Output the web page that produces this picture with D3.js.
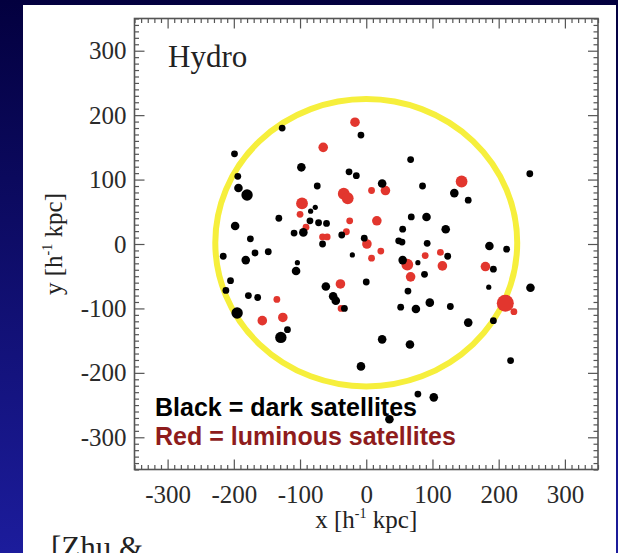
<!DOCTYPE html>
<html lang="en">
<head>
  <meta charset="UTF-8">
  <title>Hydro satellites</title>
  <style>
    body {
      margin: 0;
      padding: 0;
      background: #03003f;
    }
    svg {
      display: block;
    }
    .tick text {
      font-family: "Liberation Serif", "Times New Roman", serif;
      font-size: 25px;
      fill: #2a2a2a;
    }
    .tick line {
      stroke: #555;
      stroke-width: 1.2;
    }
    .serif {
      font-family: "Liberation Serif", "Times New Roman", serif;
      fill: #222;
    }
    .legend {
      font-family: "Liberation Sans", Arial, sans-serif;
      font-weight: bold;
      font-size: 25px;
    }
  </style>
</head>
<body>
  <div id="chart"></div>
  <script src="https://d3js.org/d3.v7.min.js"></script>
  <script>
    // tick labels
    const xTicks = [-300, -200, -100, 0, 100, 200, 300];
    const yTicks = [-300, -200, -100, 0, 100, 200, 300];

    // dark satellites: x, y [h^-1 kpc] and mass class (0 = smallest)
    const darkX = [-127, -199, -194, -193, -180, -98, -74, -77, -84, -132, -198, -175, -85, -72, -60, -95, -109, -66, -37, -8,
      -26, -15, 24, 67, 85, 133, 154, 247, 68, 91, 120, 55, -3, 49, 54, 92, 186, 212, -21, 55,
      78, 123, 88, 192, 185, 248, 154, 192, 218, 0, -61, -50, -46, -33, 63, 52, 75, 96, 127, 24,
      66, -8, 78, 102, 35, -216, -182, -168, -148, -104, -106, -205, -212, -178, -164, -195, -119, -129];
    const darkY = [180, 140, 105, 87, 76, 119, 90, 57, 51, 40, 28, 8, 36, 33, 32, 18, 17, 0, 14, 169,
      112, 106, 94, 131, 90, 79, 68, 109, 42, 42, 23, 23, 9, 5, 3, 1, -3, -8, -17, -25,
      -29, -19, -47, -39, -67, -68, -122, -119, -181, -59, -66, -81, -88, -100, -73, -98, -101, -91, -97, -148,
      -156, -190, -233, -238, -272, -19, -25, -14, -12, -29, -42, -57, -72, -80, -83, -107, -133, -145];
    const darkMass = [1, 1, 1, 2, 3, 2, 1, 0, 0, 1, 2, 1, 1, 1, 1, 2, 1, 1, 1, 1,
      1, 1, 2, 1, 1, 2, 1, 1, 1, 2, 2, 1, 1, 1, 1, 1, 2, 1, 0, 2,
      0, 1, 1, 1, 0, 2, 2, 1, 1, 1, 2, 2, 2, 1, 1, 1, 2, 2, 1, 2,
      2, 2, 1, 2, 2, 1, 2, 1, 1, 0, 2, 1, 1, 1, 1, 3, 1, 3];

    // luminous satellites
    const lumX = [-17, -65, 8, 29, -34, -28, 144, -97, -100, -91, -25, 16, -30, -66, -59, 1, 8, 22, 62, 67,
      89, 112, 115, 180, 210, 223, -39, -38, -135, -157, -126];
    const lumY = [189, 150, 83, 83, 78, 71, 97, 63, 46, 26, 36, 36, 19, 11, 11, 0, -22, -11, -32, -51,
      -18, -13, -34, -35, -92, -105, -62, -100, -86, -119, -114];
    const lumMass = [2, 2, 1, 2, 3, 3, 3, 3, 1, 1, 1, 2, 1, 1, 1, 2, 1, 1, 3, 2,
      1, 1, 2, 2, 4, 1, 2, 1, 1, 2, 2];

    // virial radius circle
    const haloCenter = [0, 2];
    const haloRadius = [228, 223];

    const width = 618;
    const height = 553;

    const svg = d3.select('#chart')
      .append('svg')
      .attr('width', width)
      .attr('height', height);

    // slide background
    const grad = svg.append('defs').append('linearGradient')
      .attr('id', 'bg')
      .attr('x1', 0).attr('y1', 0).attr('x2', 0).attr('y2', 1);
    grad.append('stop').attr('offset', '0%').attr('stop-color', '#03003f');
    grad.append('stop').attr('offset', '100%').attr('stop-color', '#1c1c9c');

    svg.append('rect')
      .attr('width', width)
      .attr('height', height)
      .attr('fill', 'url(#bg)');

    svg.append('rect')
      .attr('x', 23)
      .attr('y', 5)
      .attr('width', 593)
      .attr('height', height - 5)
      .attr('fill', '#fff');

    const x = d3.scaleLinear().domain([-350, 350]).range([134.5, 598]);
    const y = d3.scaleLinear().domain([-350, 350]).range([469.5, 18.5]);

    const darkR = d3.scaleOrdinal().domain([0, 1, 2, 3]).range([2.6, 3.4, 4.3, 5.7]);
    const lumR = d3.scaleOrdinal().domain([1, 2, 3, 4]).range([3.4, 4.8, 5.9, 8.5]);

    const minor = d3.range(-350, 351, 10).filter(v => v % 100 !== 0);

    // ticks, all pointing inward
    const axes = [
      [d3.axisBottom(x), y.range()[0], 'x', xTicks],
      [d3.axisTop(x), y.range()[1], 'x', null],
      [d3.axisLeft(y), x.range()[0], 'y', yTicks],
      [d3.axisRight(y), x.range()[1], 'y', null]
    ];
    axes.forEach(([axis, pos, dir, labels]) => {
      const tr = dir === 'x' ? `translate(0,${pos})` : `translate(${pos},0)`;
      const major = axis.scale().copy();
      const make = dir === 'x'
        ? (axis === axes[0][0] ? d3.axisBottom : d3.axisTop)
        : (axis === axes[2][0] ? d3.axisLeft : d3.axisRight);

      svg.append('g')
        .attr('transform', tr)
        .call(make(major).tickValues(minor).tickSize(-4.5).tickFormat(''))
        .call(g => g.select('.domain').remove());

      svg.append('g')
        .attr('transform', tr)
        .call(make(major).tickValues(xTicks).tickSize(-10)
          .tickPadding(dir === 'x' ? 16 : 8)
          .tickFormat(labels ? d => String(d) : ''))
        .call(g => g.select('.domain').remove());
    });

    svg.append('rect')
      .attr('x', x.range()[0])
      .attr('y', y.range()[1])
      .attr('width', x.range()[1] - x.range()[0])
      .attr('height', y.range()[0] - y.range()[1])
      .attr('fill', 'none')
      .attr('stroke', '#555')
      .attr('stroke-width', 1.6);

    // halo circle
    svg.append('ellipse')
      .attr('cx', x(haloCenter[0]))
      .attr('cy', y(haloCenter[1]))
      .attr('rx', x(haloRadius[0]) - x(0))
      .attr('ry', y(0) - y(haloRadius[1]))
      .attr('fill', 'none')
      .attr('stroke', '#f6ef3c')
      .attr('stroke-width', 6);

    svg.append('g')
      .selectAll('circle')
      .data(d3.range(lumX.length))
      .enter().append('circle')
        .attr('cx', i => x(lumX[i]))
        .attr('cy', i => y(lumY[i]))
        .attr('r', i => lumR(lumMass[i]))
        .attr('fill', '#e2362e');

    svg.append('g')
      .selectAll('circle')
      .data(d3.range(darkX.length))
      .enter().append('circle')
        .attr('cx', i => x(darkX[i]))
        .attr('cy', i => y(darkY[i]))
        .attr('r', i => darkR(darkMass[i]))
        .attr('fill', '#000');

    // labels
    svg.append('text')
      .attr('class', 'serif')
      .attr('x', 168)
      .attr('y', 67)
      .attr('font-size', 31)
      .text('Hydro');

    const xt = svg.append('text')
      .attr('class', 'serif')
      .attr('x', x(0))
      .attr('y', 528)
      .attr('font-size', 25)
      .attr('text-anchor', 'middle');
    xt.append('tspan').text('x [h');
    xt.append('tspan').attr('font-size', 14).attr('dy', -10).text('-1');
    xt.append('tspan').attr('dy', 10).text(' kpc]');

    const yt = svg.append('text')
      .attr('class', 'serif')
      .attr('transform', `translate(62,${y(0)}) rotate(-90)`)
      .attr('font-size', 25)
      .attr('text-anchor', 'middle');
    yt.append('tspan').text('y [h');
    yt.append('tspan').attr('font-size', 14).attr('dy', -10).text('-1');
    yt.append('tspan').attr('dy', 10).text(' kpc]');

    svg.append('text')
      .attr('class', 'legend')
      .attr('x', 155)
      .attr('y', 416)
      .attr('fill', '#000')
      .text('Black = dark satellites');

    svg.append('text')
      .attr('class', 'legend')
      .attr('x', 155)
      .attr('y', 445)
      .attr('fill', '#8e1c1c')
      .text('Red = luminous satellites');

    svg.append('text')
      .attr('class', 'serif')
      .attr('x', 51)
      .attr('y', 558)
      .attr('font-size', 31)
      .attr('fill', '#111')
      .text('[Zhu &');
  </script>
</body>
</html>
